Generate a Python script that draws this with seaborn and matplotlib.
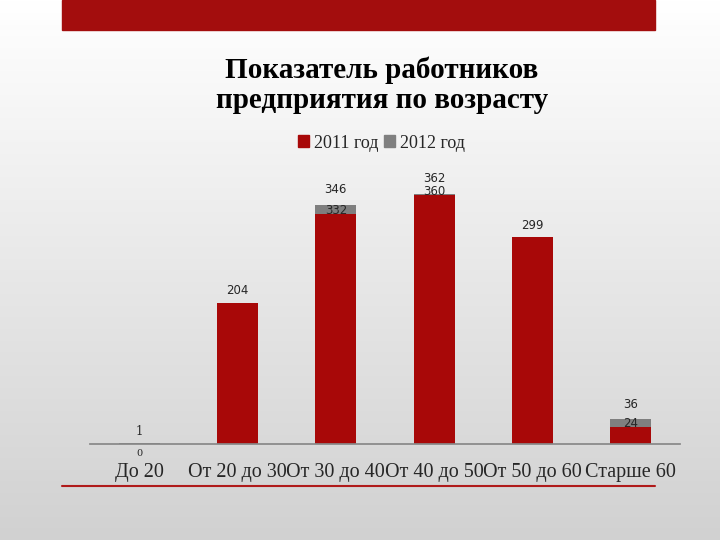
import matplotlib
matplotlib.use("Agg")
import matplotlib.pyplot as plt
import seaborn as sns
import pandas as pd
import numpy as np

categories = ["До 20", "От 20 до 30", "От 30 до 40", "От 40 до 50", "От 50 до 60", "Старше 60"]
values_2011 = [0, 204, 332, 360, 299, 24]
values_2012 = [1, 204, 346, 362, 299, 36]

sns.set_theme(style="white")
plt.rcParams['font.family'] = ['Liberation Serif', 'DejaVu Serif']

fig = plt.figure(figsize=(7.2, 5.4), dpi=100)
bg = fig.add_axes([0, 0, 1, 1], zorder=-10)
grad = np.linspace(1.0, 0.82, 256).reshape(-1, 1)
grad = np.hstack([grad, grad])
bg.imshow(np.dstack([grad]*3), aspect='auto', extent=[0, 1, 0, 1], origin='upper')
bg.axis('off')
fig.patches.append(plt.Rectangle((62/720, 1-30/540), 593/720, 30/540, transform=fig.transFigure, color='#a30d0d'))
fig.lines.append(plt.Line2D([62/720, 655/720], [1-486/540]*2, transform=fig.transFigure, color='#b01a1a', lw=1.5))

ax = fig.add_axes([90/720, 1-444/540, 590/720, 260/540])
ax.patch.set_alpha(0)
df = pd.DataFrame({"cat": categories*2,
                   "val": values_2012 + values_2011,
                   "year": ["2012 год"]*6 + ["2011 год"]*6})
sns.barplot(data=df[df.year == "2012 год"], x="cat", y="val", color="#7f7f7f", width=0.42,
            saturation=1, linewidth=0, ax=ax, zorder=1)
sns.barplot(data=df[df.year == "2011 год"], x="cat", y="val", color="#a80808", width=0.42,
            saturation=1, linewidth=0, ax=ax, zorder=2)
ax.set_ylim(0, 376)
ax.set_xlim(-0.5, 5.5)
for s in ["top", "right", "left"]:
    ax.spines[s].set_visible(False)
ax.spines["bottom"].set_color("#888888")
ax.set_yticks([])
ax.set_xlabel(""); ax.set_ylabel("")
ax.tick_params(axis='x', labelsize=14.5, pad=14, length=0)
for i in range(len(categories)):
    a, b = values_2012[i], values_2011[i]
    if a == b:
        ax.text(i, a + 8, str(a), ha='center', va='bottom', fontsize=8.5, family='DejaVu Sans')
    elif b == 0:
        ax.text(i, a + 8, str(a), ha='center', va='bottom', fontsize=8.5, family='DejaVu Serif')
        ax.text(i, -20, str(b), ha='center', va='bottom', fontsize=7, family='DejaVu Serif')
    else:
        ax.text(i, max(a, b) + 12, str(a), ha='center', va='bottom', fontsize=8.5, family='DejaVu Sans')
        ax.text(i, min(a, b) - 4, str(b), ha='center', va='bottom', fontsize=8.5, family='DejaVu Sans', zorder=3)

fig.text(0.53, 1-85/540, "Показатель работников\nпредприятия по возрасту", ha='center', va='center',
         fontsize=21, fontweight='bold', linespacing=1.15, color='black')
from matplotlib.patches import Patch
fig.legend(handles=[Patch(color="#a80808", label="2011 год"), Patch(color="#7f7f7f", label="2012 год")],
           loc='center', bbox_to_anchor=(0.53, 1-143/540), ncol=2, frameon=False, fontsize=13,
           handlelength=0.6, handleheight=0.6, handletextpad=0.3, columnspacing=0.3)
fig.savefig("out.png", dpi=100)
